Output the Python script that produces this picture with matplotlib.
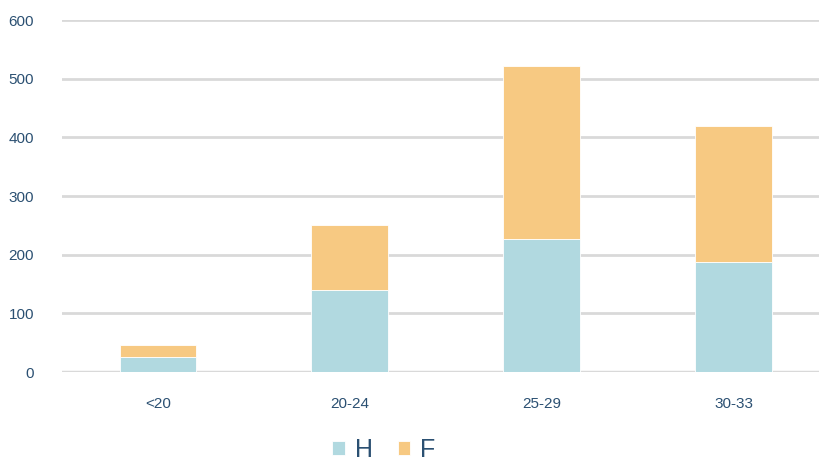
import matplotlib.pyplot as plt
import numpy as np

plt.rcParams['font.family'] = ['Liberation Sans', 'DejaVu Sans']

categories = ['<20', '20-24', '25-29', '30-33']
h_values = [25, 140, 227, 187]
f_values = [21, 110, 295, 233]

blue = '#b1d9e0'
orange = '#f7c982'
text_color = '#2b5072'

fig = plt.figure(figsize=(8.2, 4.7), dpi=100)
ax = fig.add_axes([0.0756, 0.2085, 0.9244, 0.7489])

x = np.arange(len(categories))
ax.bar(x, h_values, width=0.4, color=blue, label='H', zorder=3,
       edgecolor='white', linewidth=0.6)
ax.bar(x, f_values, width=0.4, bottom=h_values, color=orange, label='F',
       zorder=3, edgecolor='white', linewidth=0.6)

ax.set_ylim(0, 600)
ax.set_xlim(-0.5, 3.45)
ax.set_yticks(range(0, 601, 100))
ax.set_xticks(x)
ax.set_xticklabels(categories)
ax.yaxis.grid(True, color='#d9d9d9', linewidth=2, zorder=0)
ax.axhline(0, color='#d9d9d9', linewidth=2.5, zorder=2)
ax.set_axisbelow(True)
for s in ax.spines.values():
    s.set_visible(False)
ax.tick_params(length=0, labelsize=11, labelcolor=text_color)
ax.tick_params(axis='y', pad=20)
ax.tick_params(axis='x', pad=18)

leg = fig.legend(loc='lower center', bbox_to_anchor=(0.468, -0.03), ncol=2,
                 frameon=False, fontsize=18, handlelength=0.5, handleheight=0.5,
                 handletextpad=0.4, columnspacing=1.0)
for t in leg.get_texts():
    t.set_color(text_color)

fig.savefig('out.png', dpi=100)
